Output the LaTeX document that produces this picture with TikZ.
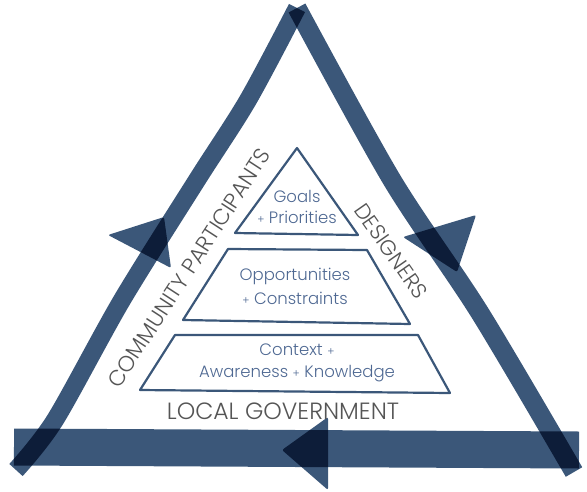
\documentclass[tikz,border=0pt]{standalone}
\usepackage{fontspec}
\newfontfamily\labelfont{Poppins}[UprightFont=* Light]
\definecolor{slateblue}{RGB}{59,87,121}
\definecolor{leveltext}{RGB}{78,104,146}
\definecolor{rolegray}{RGB}{85,85,85}
\newcommand\smallplus{{\fontsize{11}{11}\selectfont+}}

\tikzset{
	band/.style={draw=slateblue,line width=18pt,blend mode=multiply},
	tip/.style={fill=slateblue,rounded corners=2pt,blend mode=multiply},
	level/.style={draw=slateblue,line width=2.2pt,line join=round},
	leveltxt/.style={text=leveltext,align=center,font=\labelfont\fontsize{16.5}{21}\selectfont},
	role/.style={text=rolegray,font=\labelfont\fontsize{#1}{24}\selectfont},
	role/.default=22
}

\begin{document}
\begin{tikzpicture}[x=1pt,y=-1pt]
		\useasboundingbox (0,0) rectangle (587,491);
		% corners of the outer cycle
		\coordinate (top) at (297,8);
		\coordinate (bl) at (16,470);
		\coordinate (br) at (574,472);
		% sides of the cycle
		\draw[band] plot[smooth] coordinates {(top) (248,100) (197,180) (122,300) (55,420) (bl)};
		\draw[band,line width=19pt] plot[smooth] coordinates {(top) (392,180) (480,313) (br)};
		\draw[band,line width=37pt] (14,447) -- (579,450);
		% arrow heads
		\fill[tip] (108,235) -- (164,217) -- (171,268) -- cycle;
		\fill[tip] (403,237) -- (476,215) -- (457,272) -- cycle;
		\fill[tip] (282,450) -- (328,417) -- (328,490) -- cycle;
		% pyramid levels
		\draw[level] (297,148) -- (358,235) -- (235,233) -- cycle;
		\draw[level] (228,249) -- (367,250) -- (410,324) -- (183,320) -- cycle;
		\draw[level] (175,335) -- (418,335) -- (450,393) -- (140,390) -- cycle;
		\node[leveltxt] (goals) at (297,207) {Goals\\\smallplus{} Priorities};
		\node[leveltxt] (opportunities) at (295,286) {Opportunities\\[3pt]\smallplus{} Constraints};
		\node[leveltxt] (context) at (297,363) {Context \smallplus\\[1pt]Awareness \smallplus{} Knowledge};
		% roles round the pyramid
		\node[role=23.5] (government) at (283,411) {LOCAL GOVERNMENT};
		\node[role,rotate=57] (community) at (189,268) {COMMUNITY PARTICIPANTS};
		\node[role=21.5,rotate=-55] (designers) at (391,251) {DESIGNERS};
\end{tikzpicture}
\end{document}
